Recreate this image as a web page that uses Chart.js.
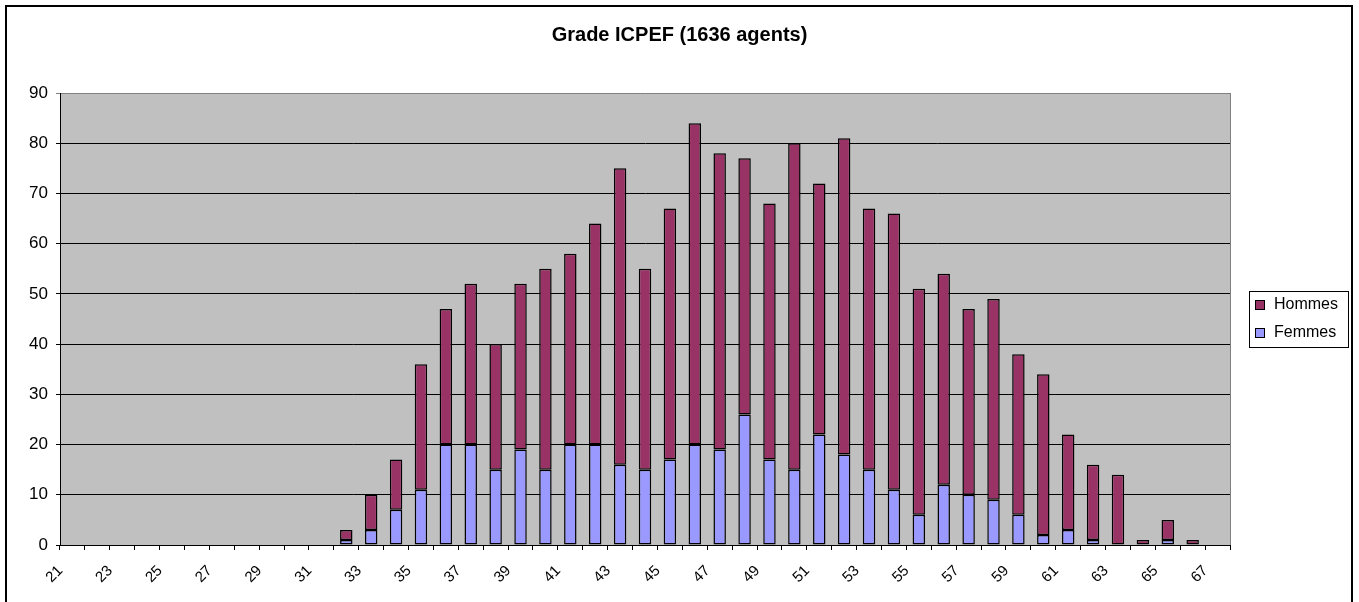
<!DOCTYPE html>
<html>
<head>
<meta charset="utf-8">
<title>Grade ICPEF</title>
<script src="https://cdn.jsdelivr.net/npm/chart.js@4"></script>
<style>
  body { margin: 0; background: #fff; }
  #wrap { width: 1359px; height: 602px; }
</style>
</head>
<body>
<div id="wrap"><canvas id="myChart" width="1359" height="602"></canvas></div>
<script>
const ages = ['21', '22', '23', '24', '25', '26', '27', '28', '29', '30', '31', '32', '33', '34', '35', '36',
  '37', '38', '39', '40', '41', '42', '43', '44', '45', '46', '47', '48', '49', '50', '51', '52',
  '53', '54', '55', '56', '57', '58', '59', '60', '61', '62', '63', '64', '65', '66', '67'];

const femmes = [0, 0, 0, 0, 0, 0, 0, 0, 0, 0, 0,
  1, 3, 7, 11, 20, 20, 15, 19, 15, 20,
  20, 16, 15, 17, 20, 19, 26, 17, 15, 22,
  18, 15, 11, 6, 12, 10, 9, 6, 2, 3,
  1, 0, 0, 1, 0, 0];

const hommes = [0, 0, 0, 0, 0, 0, 0, 0, 0, 0, 0,
  2, 7, 10, 25, 27, 32, 25, 33, 40, 38,
  44, 59, 40, 50, 64, 59, 51, 51, 65, 50,
  63, 52, 55, 45, 42, 37, 40, 32, 32, 19,
  15, 14, 1, 4, 1, 0];

const yTicks = [0, 10, 20, 30, 40, 50, 60, 70, 80, 90];

const FONT = '"Liberation Sans", Arial, sans-serif';
const ctx = document.getElementById('myChart');

// grey plot background, plot frame, outer frame, legend box
const excelLook = {
  id: 'excelLook',
  beforeDraw(chart) {
    const c = chart.ctx;
    const a = chart.chartArea;
    c.save();
    c.fillStyle = '#fff';
    c.fillRect(0, 0, chart.width, chart.height);
    c.fillStyle = '#C0C0C0';
    c.fillRect(a.left, a.top, a.right - a.left, a.bottom - a.top);
    c.restore();
  },
  afterDraw(chart) {
    const c = chart.ctx;
    const a = chart.chartArea;
    c.save();
    // right edge of plot area
    c.strokeStyle = '#808080';
    c.lineWidth = 1;
    c.beginPath();
    c.moveTo(a.right + 0.5, a.top);
    c.lineTo(a.right + 0.5, a.bottom);
    c.stroke();
    // outer frame (no bottom edge)
    c.strokeStyle = '#000';
    c.lineWidth = 2;
    c.beginPath();
    c.moveTo(6, chart.height);
    c.lineTo(6, 6);
    c.lineTo(1352, 6);
    c.lineTo(1352, chart.height);
    c.stroke();
    // legend
    const bx = 1249, by = 291, bw = 99, bh = 56;
    c.fillStyle = '#fff';
    c.fillRect(bx, by, bw, bh);
    c.lineWidth = 1;
    c.strokeRect(bx + 0.5, by + 0.5, bw, bh);
    const items = [chart.data.datasets[1], chart.data.datasets[0]];
    c.font = '16px ' + FONT;
    c.textBaseline = 'middle';
    items.forEach((ds, i) => {
      const yy = by + 14 + i * 28;
      c.fillStyle = ds.backgroundColor;
      c.fillRect(bx + 7, yy - 4, 8, 8);
      c.strokeStyle = '#000';
      c.strokeRect(bx + 6.5, yy - 4.5, 9, 9);
      c.fillStyle = '#000';
      c.fillText(ds.label, bx + 25, yy);
    });
    c.restore();
  }
};

new Chart(ctx, {
  type: 'bar',
  data: {
    labels: ages,
    datasets: [
      {
        label: 'Femmes',
        data: femmes,
        backgroundColor: '#9999FF',
        borderColor: '#000',
        borderWidth: 1.5,
        borderSkipped: false,
        categoryPercentage: 1,
        barPercentage: 0.5,
      },
      {
        label: 'Hommes',
        data: hommes,
        backgroundColor: '#993366',
        borderColor: '#000',
        borderWidth: 1.5,
        borderSkipped: false,
        categoryPercentage: 1,
        barPercentage: 0.5,
      },
    ]
  },
  options: {
    responsive: false,
    animation: false,
    devicePixelRatio: 1,
    layout: {
      padding: { left: 0, right: 0, top: 0, bottom: 0 }
    },
    scales: {
      x: {
        stacked: true,
        afterFit(scale) { scale.height = 57; },
        border: { color: '#000', width: 1 },
        grid: {
          display: true,
          drawOnChartArea: false,
          drawTicks: true,
          tickLength: 5,
          color: '#000',
          offset: true,
        },
        ticks: {
          autoSkip: false,
          maxRotation: 45,
          minRotation: 45,
          padding: 12,
          labelOffset: -12,
          color: '#000',
          font: { family: FONT, size: 15 },
          callback: function (value, index) {
            return index % 2 === 0 ? ages[index] : '';
          }
        }
      },
      y: {
        stacked: true,
        min: 0,
        max: 90,
        afterFit(scale) { scale.width = 60; },
        afterBuildTicks(scale) { scale.ticks = yTicks.map(v => ({ value: v })); },
        border: { color: '#000', width: 1 },
        grid: {
          color: c => (c.tick && c.tick.value === 90 ? '#808080' : '#000'),
          lineWidth: 1,
          tickLength: 4,
        },
        ticks: {
          padding: 8,
          color: '#000',
          font: { family: FONT, size: 17 },
        }
      },
      // empty axis that reserves the legend column on the right
      side: {
        position: 'right',
        display: true,
        afterFit(scale) { scale.width = 129; },
        border: { display: false },
        grid: { display: false },
        ticks: { display: false }
      }
    },
    plugins: {
      legend: { display: false },
      tooltip: { enabled: false },
      title: {
        display: true,
        text: 'Grade ICPEF (1636 agents)',
        color: '#000',
        font: { family: FONT, size: 20, weight: 'bold' },
        padding: { top: 23, bottom: 46 }
      }
    }
  },
  plugins: [excelLook]
});
</script>
</body>
</html>
